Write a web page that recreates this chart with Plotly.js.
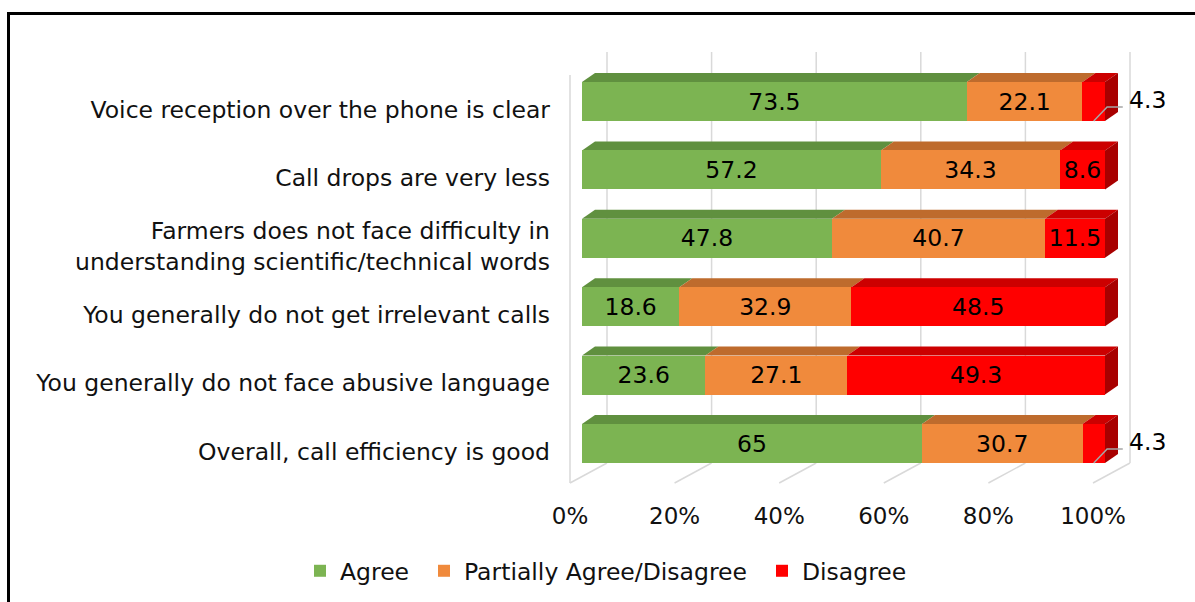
<!DOCTYPE html>
<html><head><meta charset="utf-8">
<script src="https://cdn.plot.ly/plotly-3.0.1.min.js"></script>
<style>
html,body{margin:0;padding:0;background:#fff;overflow:hidden}
#chart{width:1195px;height:602px;position:absolute;left:0;top:0}
#frame{position:absolute;left:7px;top:12px;width:1300px;height:700px;border-left:3px solid #000;border-top:3px solid #000;pointer-events:none}
</style></head><body>
<div id="chart"></div><div id="frame"></div>
<script>
// ---- data ----
const categories = [
  'Voice reception over the phone is clear',
  'Call drops are very less',
  'Farmers does not face difficulty in<br>understanding scientific/technical words',
  'You generally do not get irrelevant calls',
  'You generally do not face abusive language',
  'Overall, call efficiency is good'
];
const agree    = [73.5, 57.2, 47.8, 18.6, 23.6, 65];
const partial  = [22.1, 34.3, 40.7, 32.9, 27.1, 30.7];
const disagree = [4.3, 8.6, 11.5, 48.5, 49.3, 4.3];
const seriesNames = ['Agree', 'Partially Agree/Disagree', 'Disagree'];
const tickValues = [0, 20, 40, 60, 80, 100];
const tickLabels = ['0%', '20%', '40%', '60%', '80%', '100%'];

// ---- styling ----
const FONT = 'DejaVu Sans, Liberation Sans, Arial, sans-serif';
const FS = 23.5;
const TXT = '#111111';
const frontCol = ['#7cb452', '#f08a3c', '#ff0000'];
const topCol   = ['#60903f', '#be6b2d', '#cc0000'];
const sideCol  = '#a80000';
const gridCol  = '#d9d9d9';

// ---- geometry (pixels -> axis units) ----
const M = {l: 560, r: 5, t: 40, b: 102};
const plotW = 1195 - M.l - M.r, plotH = 602 - M.t - M.b;
const pxX = 5.23, pxY = 68.4;
const X0 = -(582 - M.l) / pxX, X1 = X0 + plotW / pxX;
const Ytop = -(101.5 - M.t) / pxY, Ybot = Ytop + plotH / pxY;
const BW = 39 / pxY;
const DX = 13 / pxX, DY = 9 / pxY;
const floorShift = 12 / pxX;
const backShift = 25 / pxX;
const labelShift = 8 / pxY;
const legendLeftPx = [300, 424, 762];
const legendNames = ['legend', 'legend2', 'legend3'];

const rows = categories.map((_, i) => i);
const series = [agree, partial, disagree];

const traces = series.map((vals, s) => ({
  type: 'bar', orientation: 'h', name: seriesNames[s], legend: legendNames[s],
  y: rows, x: vals, width: BW,
  marker: {color: frontCol[s], line: {width: 0}},
  text: vals.map(v => v >= 6 ? String(v) : ''),
  textposition: 'inside', insidetextanchor: 'middle', constraintext: 'none',
  textangle: 0,
  textfont: {family: FONT, size: FS, color: '#000'},
  hoverinfo: 'skip'
}));
traces.push({type: 'scatter', x: [null], y: [null], xaxis: 'x2', yaxis: 'y2',
  showlegend: false, hoverinfo: 'skip', mode: 'markers'});

// ---- shapes: gridlines (back wall + floor) ----
const shapes = [];
const yPix = p => Ytop + (p - M.t) / pxY;
tickValues.forEach(v => {
  shapes.push({type: 'line', layer: 'below', xref: 'x', yref: 'y',
    x0: v + backShift, x1: v + backShift, y0: yPix(52), y1: yPix(463),
    line: {color: gridCol, width: 1.5}});
  shapes.push({type: 'line', layer: 'below', xref: 'x', yref: 'y',
    x0: v - floorShift, x1: v + backShift, y0: yPix(483), y1: yPix(463),
    line: {color: gridCol, width: 1.5}});
});
shapes.push({type: 'line', layer: 'below', xref: 'x', yref: 'y',
  x0: -floorShift, x1: -floorShift, y0: yPix(75), y1: yPix(483),
  line: {color: gridCol, width: 1.5}});

// ---- shapes: 3D faces of bars ----
const annotations = [];
rows.forEach(i => {
  const tot = agree[i] + partial[i] + disagree[i];
  let c0 = 0;
  const top = i - BW / 2, bot = i + BW / 2;
  series.forEach((vals, s) => {
    const c1 = c0 + vals[i] / tot * 100;
    shapes.push({type: 'path', layer: 'below', xref: 'x', yref: 'y',
      path: `M${c0},${top} L${c1},${top} L${c1 + DX},${top - DY} L${c0 + DX},${top - DY} Z`,
      fillcolor: topCol[s], line: {width: 0}});
    if (s === series.length - 1) {
      shapes.push({type: 'path', layer: 'below', xref: 'x', yref: 'y',
        path: `M${c1},${top} L${c1 + DX},${top - DY} L${c1 + DX},${bot - DY} L${c1},${bot} Z`,
        fillcolor: sideCol, line: {width: 0}});
    }
    if (vals[i] < 6) {
      const mid = (c0 + c1) / 2;
      shapes.push({type: 'path', layer: 'above', xref: 'x', yref: 'y',
        path: `M${mid},${bot} L${c1 + 0.4},${i + 0.08} L${c1 + 3.4},${i + 0.08}`,
        line: {color: '#a6a6a6', width: 1.5}});
      annotations.push({xref: 'x', yref: 'y', x: c1 + 4.3, y: i - 0.02,
        xanchor: 'left', yanchor: 'middle', showarrow: false, text: String(vals[i]),
        font: {family: FONT, size: FS, color: '#000'}});
    }
    c0 = c1;
  });
});

const layout = {
  width: 1195, height: 602, margin: {l: M.l, r: M.r, t: M.t, b: M.b, autoexpand: false},
  paper_bgcolor: '#fff', plot_bgcolor: 'rgba(0,0,0,0)',
  barmode: 'stack', barnorm: 'percent', hovermode: false,
  font: {family: FONT, size: FS, color: TXT},
  xaxis: {range: [X0, X1], showgrid: false, zeroline: false, showticklabels: false, fixedrange: true},
  yaxis: {range: [Ybot, Ytop], showgrid: false, zeroline: false, showticklabels: false, fixedrange: true},
  xaxis2: {overlaying: 'x', side: 'bottom', range: [X0 + floorShift, X1 + floorShift],
    tickvals: tickValues, ticktext: tickLabels, showgrid: false, zeroline: false,
    ticks: '', tickfont: {family: FONT, size: 23, color: TXT}, fixedrange: true},
  yaxis2: {overlaying: 'y', side: 'left', range: [Ybot - labelShift, Ytop - labelShift],
    tickvals: rows, ticktext: categories, showgrid: false, zeroline: false,
    ticks: '', ticklabelstandoff: 9, tickfont: {family: FONT, size: FS, color: TXT}, fixedrange: true},
  showlegend: true,
  shapes: shapes,
  annotations: annotations
};
legendNames.forEach((ln, s) => {
  layout[ln] = {orientation: 'h', x: (legendLeftPx[s] - M.l) / plotW, xanchor: 'left',
    y: -(571 - (602 - M.b)) / plotH, yanchor: 'middle',
    font: {family: FONT, size: FS, color: TXT}, bgcolor: 'rgba(0,0,0,0)'};
});

Plotly.newPlot('chart', traces, layout, {displayModeBar: false, staticPlot: true});
</script>
</body></html>
